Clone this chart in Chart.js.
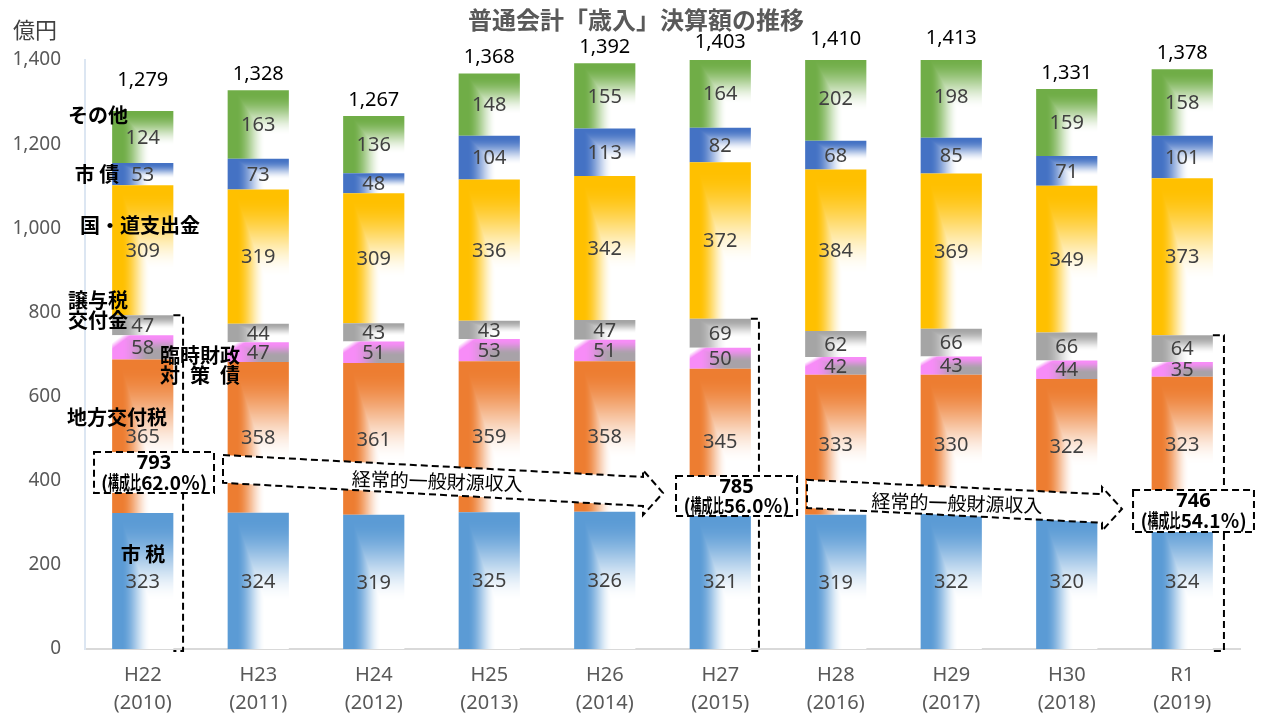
<!DOCTYPE html>
<html lang="ja">
<head>
<meta charset="utf-8">
<title>普通会計「歳入」決算額の推移</title>
<script src="https://cdn.jsdelivr.net/npm/chart.js@4.4.1/dist/chart.umd.min.js"></script>
<style>
  html, body { margin: 0; padding: 0; background: #fff; }
  #wrap { position: relative; width: 1263px; height: 716px; }
</style>
</head>
<body>
<div id="wrap"><canvas id="revenueChart"></canvas></div>
<script>
// 年度 (x軸)
const years = [
  ['H22', '(2010)'], ['H23', '(2011)'], ['H24', '(2012)'], ['H25', '(2013)'], ['H26', '(2014)'],
  ['H27', '(2015)'], ['H28', '(2016)'], ['H29', '(2017)'], ['H30', '(2018)'], ['R1', '(2019)']
];

// 歳入の内訳 (億円) - 下から順に積み上げ
const cityTax      = [323, 324, 319, 325, 326, 321, 319, 322, 320, 324];
const localAllocTx = [365, 358, 361, 359, 358, 345, 333, 330, 322, 323];
const tempFinBond  = [58, 47, 51, 53, 51, 50, 42, 43, 44, 35];
const transferTax  = [47, 44, 43, 43, 47, 69, 62, 66, 66, 64];
const subsidies    = [309, 319, 309, 336, 342, 372, 384, 369, 349, 373];
const cityBond     = [53, 73, 48, 104, 113, 82, 68, 85, 71, 101];
const others       = [124, 163, 136, 148, 155, 164, 202, 198, 159, 158];

// 合計
const totals = [1279, 1328, 1267, 1368, 1392, 1403, 1410, 1413, 1331, 1378];

// 経常的一般財源収入 (年度index, 金額, 構成比)
const generalIdx   = [0, 5, 9];
const generalValue = [793, 785, 746];
const generalShare = ['62.0', '56.0', '54.1'];

// y軸目盛
const yTicks = [0, 200, 400, 600, 800, 1000, 1200, 1400];
const yTickLabels = ['0', '200', '400', '600', '800', '1,000', '1,200', '1,400'];

const JP = '"Noto Sans CJK JP", "Noto Sans", sans-serif';
const NUM = '"Noto Sans", "DejaVu Sans", sans-serif';
const BAR_PCT = 0.53;

// [color at top/left, color at bottom-right]
const fills = {
  blue:   ['#5B9BD5', '#FFFFFF'],
  orange: ['#ED7D31', '#FFFFFF'],
  pink:   ['#F78CF7', '#A8A2A8'],
  gray:   ['#A5A5A5', '#FFFFFF'],
  yellow: ['#FFC000', '#FFFFFF'],
  navy:   ['#4472C4', '#FFFFFF'],
  green:  ['#70AD47', '#FFFFFF']
};

const hex = s => [1, 3, 5].map(k => parseInt(s.substr(k, 2), 16));
const clamp = v => Math.max(0, Math.min(1, v));

// rectangular gradient: colour along top and left edges, fading towards the bottom-right corner
function paintSegment(kind, W, H) {
  const off = document.createElement('canvas');
  off.width = W; off.height = H;
  const octx = off.getContext('2d');
  const img = octx.createImageData(W, H);
  const a = hex(fills[kind][0]), b = hex(fills[kind][1]);
  for (let y = 0; y < H; y++) {
    const v = (y + 0.5) / H;
    for (let x = 0; x < W; x++) {
      const u = (x + 0.5) / W;
      const fh = clamp((u - 0.15) / 0.45);
      const fv = clamp((v - 0.05) / 0.6);
      let m = Math.min(fh, fv);
      m = m * m * (3 - 2 * m);
      let col = a.map((c, k) => c + (b[k] - c) * m);
      if (kind === 'pink') {
        // white highlight in the upper-left corner
        const hl = clamp(1 - (u / 0.3 + v / 0.55));
        col = col.map(c => c + (255 - c) * Math.min(1, hl * 2.2));
      }
      const p = (y * W + x) * 4;
      img.data[p] = col[0]; img.data[p + 1] = col[1]; img.data[p + 2] = col[2]; img.data[p + 3] = 255;
    }
  }
  octx.putImageData(img, 0, 0);
  return off;
}

function segmentFill(kind) {
  return (c) => {
    const chart = c.chart;
    const xs = chart.scales.x, ys = chart.scales.y;
    if (c.type !== 'data' || !xs || !ys || !xs.width) return fills[kind][0];
    const i = c.dataIndex, d = c.datasetIndex;
    let below = 0;
    for (let k = 0; k < d; k++) below += chart.data.datasets[k].data[i];
    const val = chart.data.datasets[d].data[i];
    const cat = xs.getPixelForValue(1) - xs.getPixelForValue(0);
    const w = cat * BAR_PCT;
    const l = Math.floor(xs.getPixelForValue(i) - w / 2);
    const t = Math.floor(ys.getPixelForValue(below + val));
    const W = Math.ceil(w) + 2;
    const H = Math.max(2, Math.ceil(ys.getPixelForValue(below)) - t + 1);
    const pat = chart.ctx.createPattern(paintSegment(kind, W, H), 'no-repeat');
    pat.setTransform(new DOMMatrix([1, 0, 0, 1, l, t]));
    return pat;
  };
}

function dataset(label, data, kind) {
  return {
    label, data,
    backgroundColor: segmentFill(kind),
    borderWidth: 0,
    barPercentage: BAR_PCT,
    categoryPercentage: 1
  };
}

// annotations in category/value units
const arrows = [
  { x0: 0.695, x1: 4.331, tip: 4.504, top0: 461, top1: 409, bot0: 395, bot1: 340, headTop: 425, tipV: 371, headBot: 318, tx: 2.55, ty: 399 },
  { x0: 5.751, x1: 8.305, tip: 8.478, top0: 402, top1: 368, bot0: 335, bot1: 300, headTop: 385, tipV: 333, headBot: 281, tx: 7.05, ty: 347 }
];
const boxes = [
  { l: -0.422, r: 0.617, top: 468, bot: 371, bx: 0.349 },
  { l: 4.617, r: 5.665, top: 411, bot: 316, bx: 5.335 },
  { l: 8.574, r: 9.621, top: 378, bot: 278, bx: 9.361 }
];
const seriesNames = [
  { text: 'その他', x: -0.387, v: 1269 },
  { text: '市 債', x: -0.396, v: 1129 },
  { text: '国・道支出金', x: -0.024, v: 1008 },
  { text: '譲与税', x: -0.387, v: 829 },
  { text: '交付金', x: -0.387, v: 782 },
  { text: '臨時財政', x: 0.496, v: 699 },
  { text: '対\u2002策\u2002債', x: 0.496, v: 651 },
  { text: '地方交付税', x: -0.223, v: 551 },
  { text: '市 税', x: 0.002, v: 226 }
];

function drawShare(ctx, cx, cy, pct) {
  const parts = [['(', 1], ['構成比', 0.58], [pct + '％)', 1]];
  ctx.font = 'bold 19px ' + JP;
  const ws = parts.map(([s, k]) => ctx.measureText(s).width * k);
  let x = cx - ws.reduce((a, b) => a + b, 0) / 2;
  ctx.textAlign = 'left';
  parts.forEach(([s, k], j) => {
    ctx.save();
    ctx.translate(x, cy);
    ctx.scale(k, 1);
    ctx.fillText(s, 0, 0);
    ctx.restore();
    x += ws[j];
  });
  ctx.textAlign = 'center';
}

const overlay = {
  id: 'overlay',
  afterDatasetsDraw(chart) {
    const { ctx, scales: { x, y } } = chart;
    const X = v => x.getPixelForValue(v), Y = v => y.getPixelForValue(v);
    const cat = X(1) - X(0);
    ctx.save();
    ctx.textAlign = 'center';
    ctx.textBaseline = 'middle';

    // segment values
    ctx.fillStyle = '#404040';
    ctx.font = '20px ' + NUM;
    chart.data.datasets.forEach((ds, d) => {
      chart.getDatasetMeta(d).data.forEach((bar, i) => {
        ctx.fillText(ds.data[i], bar.x, (bar.y + bar.base) / 2 + 1);
      });
    });

    // totals
    ctx.fillStyle = '#000';
    totals.forEach((t, i) => {
      const off = i === 0 ? 31 : 16;
      ctx.fillText(t.toLocaleString('en-US'), X(i), Y(t) - off);
    });

    ctx.strokeStyle = '#000';
    ctx.lineWidth = 2;
    ctx.setLineDash([7, 4]);

    // brackets
    boxes.forEach((b, k) => {
      const i = generalIdx[k];
      const barR = X(i) + cat * BAR_PCT / 2;
      ctx.beginPath();
      ctx.moveTo(barR, Y(generalValue[k]));
      ctx.lineTo(X(b.bx), Y(generalValue[k]));
      ctx.lineTo(X(b.bx), Y(0) + 2);
      ctx.lineTo(barR, Y(0) + 2);
      ctx.stroke();
    });

    // arrows
    arrows.forEach(a => {
      ctx.beginPath();
      ctx.moveTo(X(a.x0), Y(a.top0));
      ctx.lineTo(X(a.x1), Y(a.top1));
      ctx.lineTo(X(a.x1), Y(a.headTop));
      ctx.lineTo(X(a.tip), Y(a.tipV));
      ctx.lineTo(X(a.x1), Y(a.headBot));
      ctx.lineTo(X(a.x1), Y(a.bot1));
      ctx.lineTo(X(a.x0), Y(a.bot0));
      ctx.closePath();
      ctx.fillStyle = '#fff';
      ctx.fill();
      ctx.stroke();
      const ang = Math.atan2(Y(a.top1) - Y(a.top0), X(a.x1) - X(a.x0));
      ctx.save();
      ctx.translate(X(a.tx), Y(a.ty));
      ctx.rotate(ang * 0.6);
      ctx.fillStyle = '#000';
      ctx.font = '19px ' + JP;
      ctx.fillText('経常的一般財源収入', 0, 0);
      ctx.restore();
    });

    // boxes
    boxes.forEach((b, k) => {
      const l = X(b.l), r = X(b.r), t = Y(b.top), bt = Y(b.bot);
      ctx.fillStyle = '#fff';
      ctx.fillRect(l, t, r - l, bt - t);
      ctx.strokeRect(l, t, r - l, bt - t);
      ctx.fillStyle = '#000';
      ctx.font = 'bold 20px ' + NUM;
      const cx = (l + r) / 2;
      ctx.fillText(generalValue[k], cx, t + (bt - t) * 0.27);
      drawShare(ctx, cx, t + (bt - t) * 0.74, generalShare[k]);
    });

    // series names
    ctx.setLineDash([]);
    ctx.fillStyle = '#000';
    ctx.font = 'bold 20px ' + JP;
    seriesNames.forEach(s => ctx.fillText(s.text, X(s.x), Y(s.v)));

    // title & unit
    ctx.fillStyle = '#595959';
    ctx.font = 'bold 24px ' + JP;
    ctx.fillText('普通会計「歳入」決算額の推移', 636, 20);
    ctx.fillStyle = '#404040';
    ctx.font = '22px ' + JP;
    ctx.fillText('億円', 35, 30);
    ctx.restore();
  }
};

new Chart(document.getElementById('revenueChart'), {
  type: 'bar',
  data: {
    labels: years,
    datasets: [
      dataset('市税', cityTax, 'blue'),
      dataset('地方交付税', localAllocTx, 'orange'),
      dataset('臨時財政対策債', tempFinBond, 'pink'),
      dataset('譲与税交付金', transferTax, 'gray'),
      dataset('国・道支出金', subsidies, 'yellow'),
      dataset('市債', cityBond, 'navy'),
      dataset('その他', others, 'green')
    ]
  },
  options: {
    responsive: true,
    maintainAspectRatio: false,
    animation: false,
    layout: { padding: { left: 0, right: 23, top: 60, bottom: 0 } },
    plugins: {
      legend: { display: false },
      tooltip: { enabled: false }
    },
    scales: {
      x: {
        stacked: true,
        grid: { display: false },
        border: { color: '#D9D9D9', width: 2 },
        ticks: { color: '#595959', font: { family: NUM, size: 20, lineHeight: 1.4 }, padding: 4, maxRotation: 0 },
        afterFit: s => { s.height = 67; }
      },
      y: {
        stacked: true,
        min: 0,
        max: 1400,
        grid: { display: false },
        border: { color: '#DCE6F2', width: 2 },
        afterBuildTicks: s => { s.ticks = yTicks.map(v => ({ value: v })); },
        ticks: {
          color: '#595959',
          font: { family: NUM, size: 19 },
          padding: 16,
          callback: (v) => yTickLabels[yTicks.indexOf(v)]
        },
        afterFit: s => { s.width = 85; }
      }
    }
  },
  plugins: [overlay]
});
</script>
</body>
</html>
